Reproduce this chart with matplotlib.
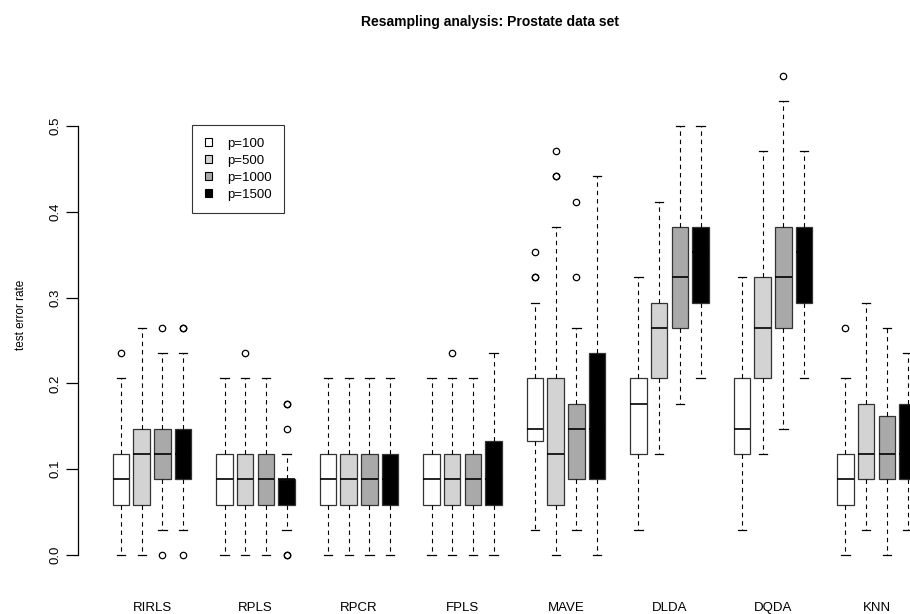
import numpy as np
import matplotlib
matplotlib.use("Agg")
import matplotlib.pyplot as plt
from matplotlib.patches import Patch

plt.rcParams['font.family'] = ['Liberation Sans', 'DejaVu Sans']

# test set has 34 samples, values read as number of errors out of 34
n_test = 34.0

methods = ["RIRLS", "RPLS", "RPCR", "FPLS", "MAVE", "DLDA", "DQDA", "KNN"]
sizes = ["p=100", "p=500", "p=1000", "p=1500"]
fills = ["white", "#d3d3d3", "#a9a9a9", "black"]

# rows = methods, columns = p values
wlo = [[0, 0, 1, 1],
       [0, 0, 0, 1],
       [0, 0, 0, 0],
       [0, 0, 0, 0],
       [1, 0, 1, 0],
       [1, 4, 6, 7],
       [1, 4, 5, 7],
       [0, 1, 0, 1]]
q1 = [[2, 2, 3, 3],
      [2, 2, 2, 2],
      [2, 2, 2, 2],
      [2, 2, 2, 2],
      [4.5, 2, 3, 3],
      [4, 7, 9, 10],
      [4, 7, 9, 10],
      [2, 3, 3, 3]]
med = [[3, 4, 4, 4],
       [3, 3, 3, 3],
       [3, 3, 3, 3],
       [3, 3, 3, 3],
       [5, 4, 5, 5],
       [6, 9, 11, 12],
       [5, 9, 11, 12],
       [3, 4, 4, 4]]
q3 = [[4, 5, 5, 5],
      [4, 4, 4, 3],
      [4, 4, 4, 4],
      [4, 4, 4, 4.5],
      [7, 7, 6, 8],
      [7, 10, 13, 13],
      [7, 11, 13, 13],
      [4, 6, 5.5, 6]]
whi = [[7, 9, 8, 8],
       [7, 7, 7, 4],
       [7, 7, 7, 7],
       [7, 7, 7, 8],
       [10, 13, 9, 15],
       [11, 14, 17, 17],
       [11, 16, 18, 16],
       [7, 10, 9, 8]]
outliers = [[[8], [], [0, 9], [0, 9, 9]],
            [[], [8], [], [0, 0, 5, 6, 6]],
            [[], [], [], []],
            [[], [8], [], []],
            [[11, 11, 12], [15, 15, 16], [11, 14], []],
            [[], [], [], []],
            [[], [], [19], []],
            [[9], [], [], []]]

fig = plt.figure(figsize=(9.1, 6.14), dpi=100)
ax = fig.add_axes([78/910, 40/614, 832/910, 517.5/614])

for j in range(4):
    stats = []
    pos = []
    for g in range(len(methods)):
        stats.append(dict(whislo=wlo[g][j]/n_test, q1=q1[g][j]/n_test,
                          med=med[g][j]/n_test, q3=q3[g][j]/n_test,
                          whishi=whi[g][j]/n_test,
                          fliers=np.array(outliers[g][j])/n_test))
        pos.append(1 + 5*g + j)
    ax.bxp(stats, positions=pos, widths=0.8, patch_artist=True,
           capwidths=0.4, manage_ticks=False,
           boxprops=dict(facecolor=fills[j], edgecolor="#333333", linewidth=0.9),
           medianprops=dict(color="black", linewidth=1.2),
           whiskerprops=dict(color="black", linewidth=0.8, linestyle=(0, (4, 3.5))),
           capprops=dict(color="black", linewidth=0.9),
           flierprops=dict(marker="o", markerfacecolor="none", markeredgecolor="black",
                           markersize=4.6, markeredgewidth=0.9))

ax.set_xlim(1 - 43/20.7, 1 + 789/20.7)
ax.set_ylim(-19/858, 498.5/858)

for s in ["top", "right", "bottom"]:
    ax.spines[s].set_visible(False)
ax.spines["left"].set_bounds(0, 0.5)
ax.spines["left"].set_linewidth(0.9)
ax.set_yticks([0.0, 0.1, 0.2, 0.3, 0.4, 0.5])
ax.set_yticklabels(["0.0", "0.1", "0.2", "0.3", "0.4", "0.5"], rotation=90, va="center")
ax.tick_params(axis="y", length=9, width=0.9, labelsize=9.5, pad=3)
ax.set_xticks([1 + 5*g + 1.5 for g in range(len(methods))])
ax.set_xticklabels(methods)
ax.tick_params(axis="x", length=0, labelsize=9.5, pad=20)
ax.set_ylabel("test error rate", fontsize=8.5, labelpad=16)

fig.text(490/910, 1 - 22/614, "Resampling analysis: Prostate data set",
         ha="center", va="center", fontsize=10, fontweight="bold")

handles = [Patch(facecolor=c, edgecolor="black", linewidth=0.8) for c in fills]
leg = ax.legend(handles, sizes, loc="upper left",
                bbox_to_anchor=(192/910, 1 - 125/614), bbox_transform=fig.transFigure,
                fontsize=9.5, frameon=True, fancybox=False, handlelength=0.6,
                handleheight=0.6, handletextpad=1.1, labelspacing=0.38,
                borderpad=0.95, borderaxespad=0)
leg.get_frame().set_edgecolor("black")
leg.get_frame().set_linewidth(0.8)

fig.savefig("out.png", dpi=100)
